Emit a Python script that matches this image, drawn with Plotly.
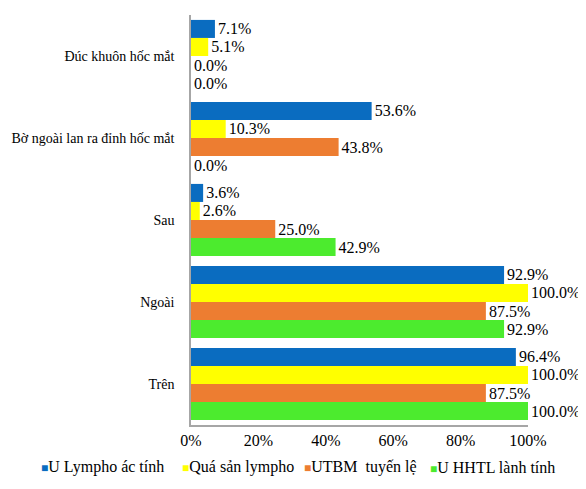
import plotly.graph_objects as go

categories = ["Đúc khuôn hốc mắt", "Bờ ngoài lan ra đỉnh hốc mắt", "Sau", "Ngoài", "Trên"]
series_names = ["U Lympho ác tính", "Quá sản lympho", "UTBM  tuyến lệ", "U HHTL lành tính"]
lympho_ac_tinh = [7.1, 53.6, 3.6, 92.9, 96.4]
qua_san_lympho = [5.1, 10.3, 2.6, 100.0, 100.0]
utbm_tuyen_le = [0.0, 43.8, 25.0, 87.5, 87.5]
u_hhtl = [0.0, 0.0, 42.9, 92.9, 100.0]
x_ticks = [0, 20, 40, 60, 80, 100]
x_tick_labels = ["0%", "20%", "40%", "60%", "80%", "100%"]

colors = ["#0A6CC0", "#FFFF00", "#ED7D31", "#4CEB2E"]
all_values = [lympho_ac_tinh, qua_san_lympho, utbm_tuyen_le, u_hhtl]

FONT = "Times New Roman"
OFF = 8  # page body margin
W, H = 586 - OFF, 489 - OFF
ML, MT = 191 - OFF, 15 - OFF
MR = W - (528 - OFF)
MB = H - (425 - OFF)
PW, PH = W - ML - MR, H - MT - MB

fig = go.Figure()
for name, vals, col in zip(series_names, all_values, colors):
    lbl_font = dict(family=FONT, size=16, color="#000000")
    fig.add_trace(go.Bar(
        y=categories, x=vals, name=name, orientation="h",
        marker=dict(color=col, line=dict(width=0)),
        text=[f"{v:.1f}%" for v in vals],
        textposition="outside",
        textfont=lbl_font, outsidetextfont=lbl_font, insidetextfont=lbl_font,
        cliponaxis=False,
    ))

# legend row (one text entry per series, coloured square + name)
legend_px = [39, 180, 302, 428]
for name, col, px in zip(series_names, colors, legend_px):
    fig.add_annotation(
        xref="paper", yref="paper", x=(px - OFF - ML) / PW,
        y=-(467 - 425) / PH,
        xanchor="left", yanchor="middle", showarrow=False,
        text=f'<span style="color:{col};font-size:12px">■</span>{name}',
        font=dict(family=FONT, size=16, color="#000000"),
    )

fig.update_layout(
    width=W, height=H,
    margin=dict(l=ML, r=MR, t=MT, b=MB),
    paper_bgcolor="white", plot_bgcolor="white",
    barmode="group", bargap=0.12, bargroupgap=0,
    font=dict(family=FONT, size=16, color="#000000"),
    showlegend=False,
)
fig.update_xaxes(range=[0, 100], tickvals=x_ticks, ticktext=x_tick_labels,
                 showgrid=False, zeroline=False, showline=True, linecolor="#A6A6A6",
                 linewidth=1.5, ticks="", automargin=False,
                 tickfont=dict(family=FONT, size=16))
fig.update_yaxes(autorange="reversed", showgrid=False, showline=True, linecolor="#A6A6A6",
                 linewidth=1.5, ticks="", ticklabelstandoff=12, automargin=False,
                 tickfont=dict(family=FONT, size=14))

fig.write_html("out.html")
